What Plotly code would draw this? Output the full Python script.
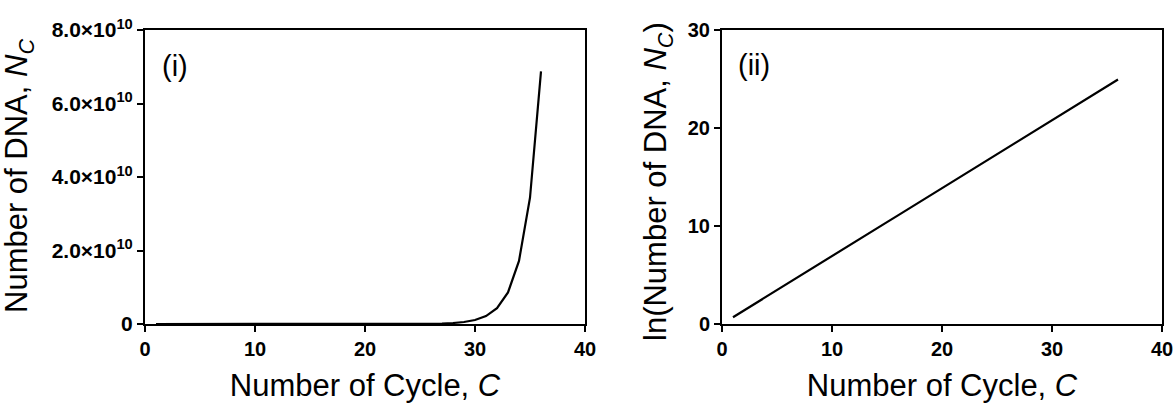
import plotly.graph_objects as go

# Data (cycle number vs. DNA copies, doubling each cycle)
cycles = list(range(1, 37))
dna_count = [2, 4, 8, 16, 32, 64, 128, 256, 512, 1024, 2048, 4096, 8192, 16384,
             32768, 65536, 131072, 262144, 524288, 1048576, 2097152, 4194304,
             8388608, 16777216, 33554432, 67108864, 134217728, 268435456,
             536870912, 1073741824, 2147483648, 4294967296, 8589934592,
             17179869184, 34359738368, 68719476736]
ln_dna = [0.69, 1.39, 2.08, 2.77, 3.47, 4.16, 4.85, 5.55, 6.24, 6.93, 7.62, 8.32,
          9.01, 9.70, 10.40, 11.09, 11.78, 12.48, 13.17, 13.86, 14.56, 15.25,
          15.94, 16.64, 17.33, 18.02, 18.71, 19.41, 20.10, 20.79, 21.49, 22.18,
          22.87, 23.57, 24.26, 24.95]

x_ticks = [0, 10, 20, 30, 40]
y1_ticks = [0, 2e10, 4e10, 6e10, 8e10]
y1_ticktext = ["0", "2.0×10<sup>10</sup>", "4.0×10<sup>10</sup>",
               "6.0×10<sup>10</sup>", "8.0×10<sup>10</sup>"]
y2_ticks = [0, 10, 20, 30]

x_title = "Number of Cycle, <i>C</i>"
y1_title = "Number of DNA, <i>N</i><sub><i>C</i></sub>"
y2_title = "ln(Number of DNA, <i>N</i><sub><i>C</i></sub>)"

FONT = "Arial, Liberation Sans, Helvetica, sans-serif"
# The page body margin is removed below, so positions are page pixels.
W, H = 1175, 403

def px(x):
    return x / W

def py(y):
    return 1 - y / H

fig = go.Figure()
fig.add_trace(go.Scatter(x=cycles, y=dna_count, mode="lines",
                         line=dict(color="black", width=2.2),
                         xaxis="x", yaxis="y", showlegend=False))
fig.add_trace(go.Scatter(x=cycles, y=ln_dna, mode="lines",
                         line=dict(color="black", width=2.2),
                         xaxis="x2", yaxis="y2", showlegend=False))

common = dict(showline=True, linecolor="black", linewidth=2, mirror=True,
              ticks="outside", ticklen=6, tickwidth=2, tickcolor="black",
              showgrid=False, zeroline=False, automargin=False)

xtickfont = dict(family=FONT, size=20, color="black")
y1tickfont = dict(family=FONT, size=21, color="black")
y2tickfont = dict(family=FONT, size=20, color="black")
titlefont = dict(family=FONT, size=31, color="black")

ydom = [py(324), py(30)]

def bold(lst):
    return ["<b>%s</b>" % t for t in lst]

fig.update_layout(
    width=W, height=H,
    margin=dict(l=0, r=0, t=0, b=0),
    paper_bgcolor="white", plot_bgcolor="white",
    font=dict(family=FONT, color="black"),
    xaxis=dict(domain=[px(145), px(585)], range=[0, 40],
               tickvals=x_ticks, ticktext=bold([str(v) for v in x_ticks]),
               tickfont=xtickfont,
               title=dict(text=x_title, standoff=16, font=titlefont),
               anchor="y", **common),
    yaxis=dict(domain=ydom, range=[0, 8e10],
               tickvals=y1_ticks, ticktext=bold(y1_ticktext),
               tickfont=y1tickfont, anchor="x", **common),
    xaxis2=dict(domain=[px(722), px(1162)], range=[0, 40],
                tickvals=x_ticks, ticktext=bold([str(v) for v in x_ticks]),
                tickfont=xtickfont,
                title=dict(text=x_title, standoff=16, font=titlefont),
                anchor="y2", **common),
    yaxis2=dict(domain=ydom, range=[0, 30],
                tickvals=y2_ticks, ticktext=bold([str(v) for v in y2_ticks]),
                tickfont=y2tickfont, anchor="x2", **common),
    annotations=[
        dict(text=y1_title, x=px(19), y=py(176), xref="paper", yref="paper",
             textangle=-90, showarrow=False, xanchor="center", yanchor="middle",
             font=titlefont),
        dict(text=y2_title, x=px(658), y=py(182), xref="paper", yref="paper",
             textangle=-90, showarrow=False, xanchor="center", yanchor="middle",
             font=titlefont),
        dict(text="(i)", x=px(175), y=py(66), xref="paper", yref="paper",
             showarrow=False, xanchor="center", yanchor="middle",
             font=dict(family=FONT, size=29, color="black")),
        dict(text="(ii)", x=px(754), y=py(65), xref="paper", yref="paper",
             showarrow=False, xanchor="center", yanchor="middle",
             font=dict(family=FONT, size=29, color="black")),
    ],
)

fig.write_html("out.html",
               config={"displayModeBar": False},
               post_script="document.body.style.margin='0';"
                           "document.documentElement.style.overflow='hidden';"
                           "document.body.style.overflow='hidden';")
